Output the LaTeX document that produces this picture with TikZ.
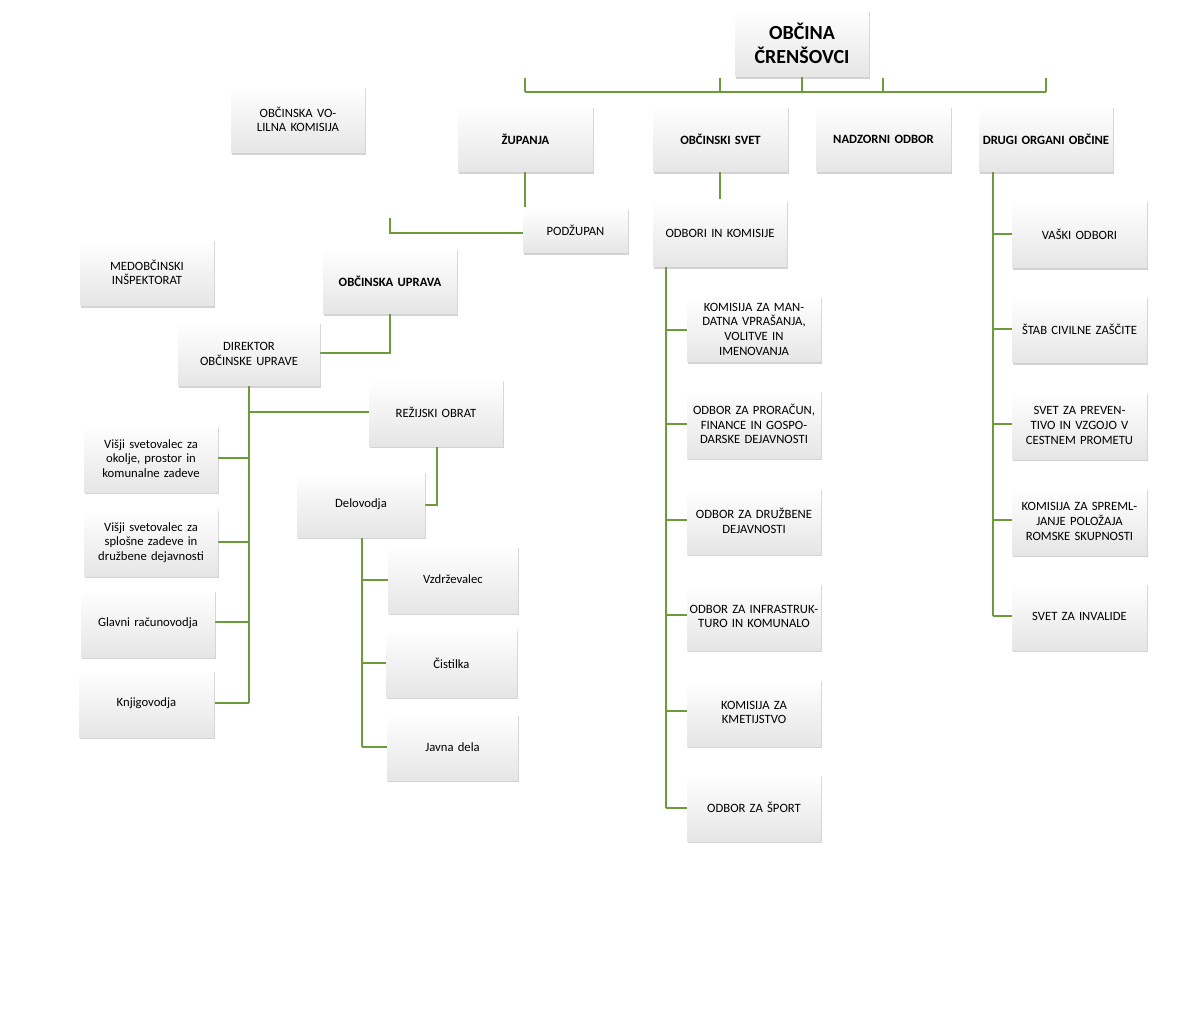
\documentclass[tikz,border=0pt]{standalone}
\usepackage{fontspec}
\setmainfont{Carlito}
\usetikzlibrary{shadows}
\definecolor{ln}{HTML}{6B9B3A}
\tikzset{
 box/.style={draw=none,top color=white,bottom color=black!10,drop shadow={shadow xshift=1pt,shadow yshift=-1.5pt,opacity=0.35},align=center,font=\fontsize{9.5}{11}\selectfont,inner sep=1pt},
 bb/.style={font=\fontsize{9.5}{11}\selectfont\bfseries},
 con/.style={draw=ln,line width=2pt}
}
\newcommand\bx[7][]{\node[box,#1,minimum width={(#5-#3)*0.75pt},minimum height={(#6-#4)*0.75pt},text width={(#5-#3)*0.75pt-2pt}] (#2) at ({(#3+#5)/2},{(#4+#6)/2}) {#7};}
\begin{document}
\begin{tikzpicture}[x=0.75pt,y=-0.75pt]
\useasboundingbox (0,0) rectangle (1200,1034);
% connectors first
\coordinate (top) at (802,77);
\coordinate (hz) at (802,92);
\coordinate (z1) at (525,92);\coordinate (z2) at (720,92);\coordinate (z3) at (883,92);\coordinate (z4) at (1046,92);
\draw[con] (top) -- (hz); \draw[con] (z1) -- (z4);
\foreach \x in {1,2,3,4} \draw[con] (z\x) -- ++(0,-14);
\coordinate (zs) at (525,172);\coordinate (zj) at (525,233);\coordinate (ouk) at (390,233);
\draw[con] (zs) -- (zj) -- (ouk) -- ++(0,-15);
\coordinate (ous) at (390,314);\coordinate (oul) at (390,353);
\draw[con] (ous) -- (oul) -- ++(-70,0);
\coordinate (ds) at (249,386);
\draw[con] (ds) -- (249,703);
\draw[con] (249,412) -- (369,412);
\foreach \y in {458,542,622,703} \draw[con] (249,\y) -- (215,\y);
\draw[con] (437,446) -- (437,505) -- (425,505);
\draw[con] (362,537) -- (362,747);
\foreach \y in {580,663,747} \draw[con] (362,\y) -- (388,\y);
\draw[con] (720,172) -- (720,200);
\draw[con] (666,267) -- (666,808);
\foreach \y in {330,424,520,615,711,808} \draw[con] (666,\y) -- (687,\y);
\draw[con] (993,172) -- (993,616);
\foreach \y in {234,329,424,520,616} \draw[con] (993,\y) -- (1012,\y);
% boxes
\bx[font=\fontsize{15}{18}\selectfont\bfseries]{obc}{735}{10}{869}{77}{OBČINA\\ČRENŠOVCI}
\bx{ovk}{231}{86}{365}{153}{OBČINSKA VOLILNA KOMISIJA}
\bx[bb]{zup}{458}{106}{593}{172}{ŽUPANJA}
\bx[bb]{os}{653}{106}{788}{172}{OBČINSKI SVET}
\bx[bb]{no}{816}{106}{951}{172}{NADZORNI ODBOR}
\bx[bb]{dr}{979}{106}{1113}{172}{DRUGI ORGANI OBČINE}
\bx{pod}{523}{208}{628}{253}{PODŽUPAN}
\bx[bb]{ou}{323}{248}{457}{314}{OBČINSKA UPRAVA}
\bx{med}{80}{239}{214}{306}{MEDOBČINSKI INŠPEKTORAT}
\bx{dir}{178}{322}{320}{386}{DIREKTOR OBČINSKE UPRAVE}
\bx{rez}{369}{379}{503}{446}{REŽIJSKI OBRAT}
\bx{v1}{84}{425}{218}{492}{Višji svetovalec za okolje, prostor in komunalne zadeve}
\bx{v2}{84}{509}{218}{576}{Višji svetovalec za splošne zadeve in družbene dejavnosti}
\bx{gr}{81}{590}{215}{657}{Glavni računovodja}
\bx{kn}{79}{670}{214}{737}{Knjigovodja}
\bx{del}{297}{471}{425}{537}{Delovodja}
\bx{vz}{388}{546}{518}{613}{Vzdrževalec}
\bx{ci}{386}{629}{517}{697}{Čistilka}
\bx{jd}{387}{714}{518}{780}{Javna dela}
\bx{oik}{653}{200}{787}{267}{ODBORI IN KOMISIJE}
\bx{k1}{687}{296}{821}{362}{KOMISIJA ZA MANDATNA VPRAŠANJA, VOLITVE IN IMENOVANJA}
\bx{k2}{687}{390}{821}{458}{ODBOR ZA PRORAČUN, FINANCE IN GOSPODARSKE DEJAVNOSTI}
\bx{k3}{687}{488}{821}{554}{ODBOR ZA DRUŽBENE DEJAVNOSTI}
\bx{k4}{687}{583}{821}{650}{ODBOR ZA INFRASTRUKTURO IN KOMUNALO}
\bx{k5}{687}{679}{821}{746}{KOMISIJA ZA KMETIJSTVO}
\bx{k6}{687}{774}{821}{841}{ODBOR ZA ŠPORT}
\bx{d1}{1012}{200}{1147}{268}{VAŠKI ODBORI}
\bx{d2}{1012}{296}{1147}{363}{ŠTAB CIVILNE ZAŠČITE}
\bx{d3}{1012}{392}{1147}{459}{SVET ZA PREVENTIVO IN VZGOJO V CESTNEM PROMETU}
\bx{d4}{1012}{488}{1147}{555}{KOMISIJA ZA SPREMLJANJE POLOŽAJA ROMSKE SKUPNOSTI}
\bx{d5}{1012}{583}{1147}{650}{SVET ZA INVALIDE}
\end{tikzpicture}
\end{document}
